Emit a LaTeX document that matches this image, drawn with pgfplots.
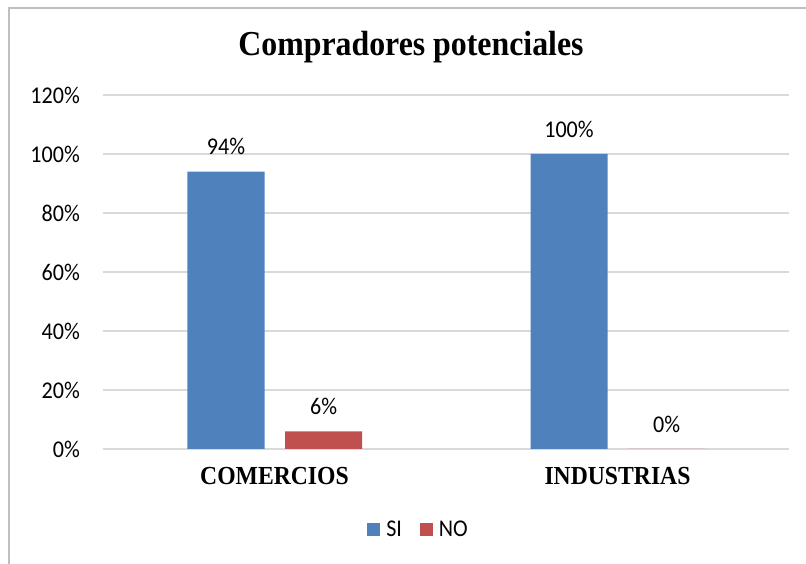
\documentclass[border=0pt]{standalone}
\usepackage{pgfplots}
\pgfplotsset{compat=1.18}
\usepackage{fontspec}
\setmainfont{Liberation Serif}[FakeStretch=0.91]
\newfontfamily\tickfont{Carlito}[FakeStretch=0.92]
\definecolor{siblue}{HTML}{4F81BD}
\definecolor{nored}{HTML}{C0504D}
\definecolor{gridgray}{HTML}{D9D9D9}
\definecolor{framegray}{HTML}{BFBFBF}
\begin{document}
\begin{tikzpicture}[x=1pt,y=1pt]
\useasboundingbox (0,0) rectangle (806,564);
\draw[framegray, line width=1.5pt] (9,-20) -- (9,556) -- (830,556);
\node[anchor=base, font=\bfseries\fontsize{35}{40}\selectfont] at (411,508) {Compradores potenciales};
\begin{axis}[
  at={(103pt,115pt)}, anchor=south west,
  scale only axis, width=686pt, height=354pt,
  xmin=-0.5, xmax=1.5, ymin=0, ymax=120,
  xtick={0,1}, xticklabels={COMERCIOS,INDUSTRIAS},
  ytick={0,20,40,60,80,100,120},
  yticklabels={0\%,20\%,40\%,60\%,80\%,100\%,120\%},
  major tick length=0pt,
  axis line style={draw=none},
  ymajorgrids, grid style={gridgray, line width=1.5pt},
  yticklabel style={font=\tickfont\fontsize{24}{26}\selectfont, anchor=east, inner sep=0pt, xshift=-23pt},
  xticklabel style={font=\bfseries\fontsize{26}{30}\selectfont, anchor=base, inner sep=0pt, yshift=-36pt},
  ybar, bar width=0.2245,
  nodes near coords={\pgfmathprintnumber[assume math mode=true]{\pgfplotspointmeta}\%},
  every node near coord/.append style={font=\tickfont\fontsize{24}{26}\selectfont, anchor=center, yshift=25pt, inner sep=0pt},
  legend style={at={(0.46,-0.2274)}, anchor=center, draw=none, fill=none,
    font=\tickfont\fontsize{24}{26}\selectfont, legend columns=2,
    /tikz/every odd column/.append style={column sep=4pt},
    /tikz/every even column/.append style={column sep=16pt}},
  legend image code/.code={\fill[#1] (0pt,-6.5pt) rectangle (13pt,6.5pt);},
  clip=false,
]
\addplot[fill=siblue, draw=none, bar shift=-0.1414] coordinates {(0,94) (1,100)};
\addplot[fill=nored, draw=none, bar shift=0.143] coordinates {(0,6) (1,0)};
\legend{SI,NO}
\end{axis}
\end{tikzpicture}
\end{document}
